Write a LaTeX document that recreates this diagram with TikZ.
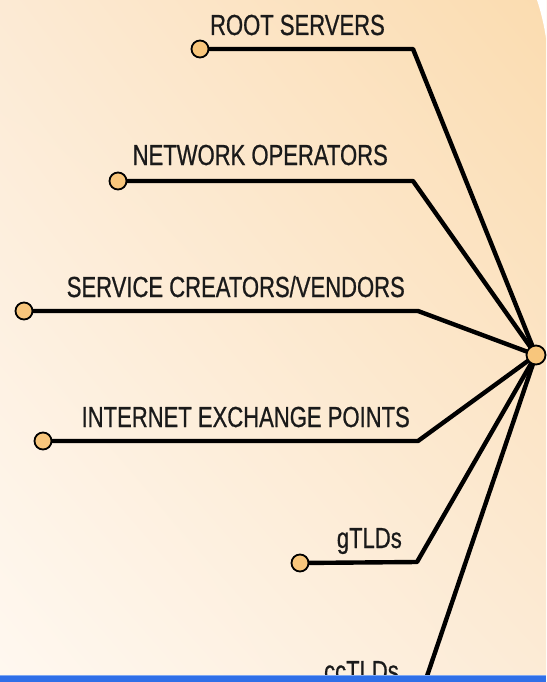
\documentclass[tikz,border=0pt]{standalone}
\usepackage{fontspec}
\setmainfont{Liberation Sans}[FakeStretch=0.76,FakeBold=0.7]
\usetikzlibrary{shadings}

\pgfdeclarelayer{paper}
\pgfdeclarelayer{wires}
\pgfdeclarelayer{front}
\pgfsetlayers{paper,wires,main,front}

\definecolor{dotfill}{HTML}{F8C67C}
\definecolor{labeltext}{HTML}{1A1A1A}
\definecolor{paperA}{HTML}{FCEAD4}
\definecolor{paperB}{HTML}{FBDCB0}
\definecolor{paperC}{HTML}{FFF8F0}
\definecolor{paperD}{HTML}{FCEBD6}
\definecolor{barblue}{HTML}{2F6FE8}
\definecolor{barlight}{HTML}{7FA8F2}

\begin{document}
\begin{tikzpicture}[x=1pt,y=-1pt,
		dot/.style={circle,draw=black,line width=1.8pt,fill=dotfill,
			minimum size=17pt,inner sep=0pt},
		wire/.style={line width=4.4pt,line join=round},
		lbl/.style={anchor=base east,inner sep=0pt,text=labeltext,
			font=\fontsize{29}{29}\selectfont}]
	\useasboundingbox (0,0) rectangle (546,682);

	% paper
	\begin{pgfonlayer}{paper}
		\shade[upper left=paperA,upper right=paperB,
			lower left=paperC,lower right=paperD] (0,0) rectangle (546,682);
		\fill[white] (537,0) .. controls (541,12) and (544,25) .. (546,38)
			-- (546,0) -- cycle;
	\end{pgfonlayer}

	% hub and end points
	\node[dot,minimum size=19pt] (hub) at (536,355) {};
	\node[dot] (rootdot) at (200,49) {};
	\node[dot] (netdot) at (118,181) {};
	\node[dot] (servdot) at (24,311) {};
	\node[dot] (ixpdot) at (43,441) {};
	\node[dot] (gtlddot) at (300,563) {};

	\coordinate (rootbend) at (413,49);
	\coordinate (netbend) at (413,181);
	\coordinate (servbend) at (418,311);
	\coordinate (ixpbend) at (418,441);
	\coordinate (gtldbend) at (417,562);
	\coordinate (cctldend) at (425,682);

	% wires
	\begin{pgfonlayer}{wires}
		\draw[wire] (rootdot.center) -- (rootbend) -- (hub.center);
		\draw[wire] (netdot.center) -- (netbend) -- (hub.center);
		\draw[wire] (servdot.center) -- (servbend) -- (hub.center);
		\draw[wire] (ixpdot.center) -- (ixpbend) -- (hub.center);
		\draw[wire] (gtlddot.center) -- (gtldbend) -- (hub.center);
		\draw[wire] (hub.center) -- (cctldend);
	\end{pgfonlayer}

	% labels
	\node[lbl] (rootlbl) at (385,35) {ROOT SERVERS};
	\node[lbl] (netlbl) at (388,165) {NETWORK OPERATORS};
	\node[lbl] (servlbl) at (405,297) {SERVICE CREATORS/VENDORS};
	\node[lbl] (ixplbl) at (410,427) {INTERNET EXCHANGE POINTS};
	\node[lbl] (gtldlbl) at (402,548) {gTLDs};
	\node[lbl] (cctldlbl) at (399,681) {ccTLDs};

	% bottom bar
	\begin{pgfonlayer}{front}
		\fill[barblue] (0,675) rectangle (546,682);
		\draw[barlight,line width=1pt] (0,675.5) -- (546,675.5);
	\end{pgfonlayer}
\end{tikzpicture}
\end{document}
